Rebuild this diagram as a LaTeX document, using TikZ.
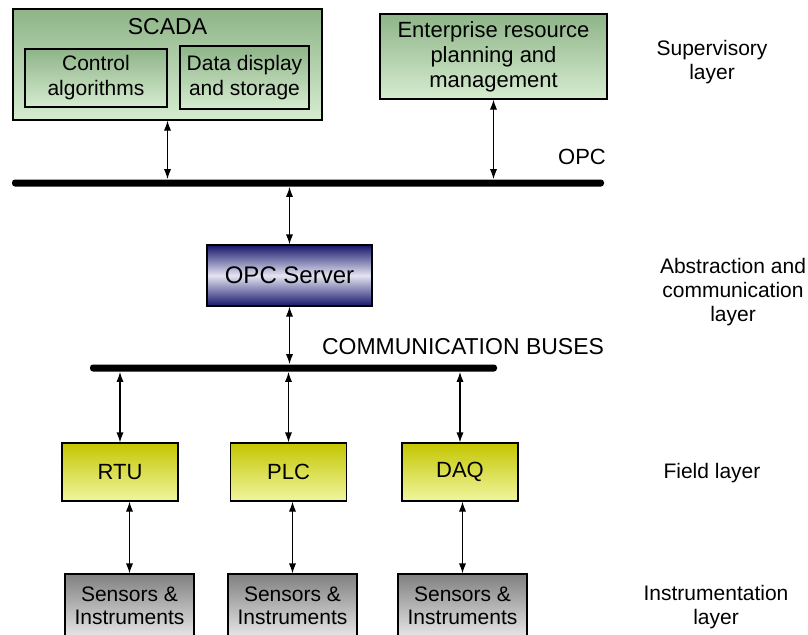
\documentclass[tikz,border=0pt]{standalone}
\usepackage{fontspec}
\setmainfont{Liberation Sans}
\usetikzlibrary{arrows.meta}

\definecolor{grtop}{RGB}{142,180,136}
\definecolor{grbot}{RGB}{214,236,208}
\definecolor{yltop}{RGB}{196,198,0}
\definecolor{ylbot}{RGB}{240,246,160}
\definecolor{navy}{RGB}{22,22,108}
\definecolor{navymid}{RGB}{228,228,242}
\definecolor{gytop}{RGB}{128,128,128}
\definecolor{gybot}{RGB}{232,232,232}

\begin{document}
\begin{tikzpicture}[x=0.5pt, y=-0.5pt,
    box/.style={draw, line width=0.6pt, inner sep=0pt, align=center,
        font=\fontsize{10.5}{12.5}\selectfont},
    greenbox/.style={box, top color=grtop, bottom color=grbot},
    fieldbox/.style={box, top color=yltop, bottom color=ylbot,
        minimum width=58pt, minimum height=29pt, font=\fontsize{11}{13}\selectfont},
    sensbox/.style={box, top color=gytop, bottom color=gybot,
        minimum width=64.5pt, minimum height=32pt, font=\fontsize{10.5}{11.5}\selectfont},
    bus/.style={fill=black, rounded corners=1.5pt, minimum height=3.5pt, inner sep=0pt},
    layer/.style={align=center, font=\fontsize{10.5}{12}\selectfont},
    link/.style={{Latex[length=5pt,width=3.6pt]}-{Latex[length=5pt,width=3.6pt]}, line width=0.6pt}]
    \clip (0,0) rectangle (808,634);

    % Supervisory layer
    \node[greenbox, minimum width=154.5pt, minimum height=55.5pt] (scada) at (167.5,64.5) {};
    \node[font=\fontsize{11.5}{13}\selectfont] (scadatitle) at (167.5,27) {SCADA};
    \node[greenbox, minimum width=71pt, minimum height=29pt] (ctrl) at (96,78) {Control\\algorithms};
    \node[greenbox, minimum width=64.5pt, minimum height=31.5pt] (data) at (244.5,77.5) {Data display\\and storage};
    \node[greenbox, minimum width=113.5pt, minimum height=42.5pt,
        font=\fontsize{11}{12.5}\selectfont] (erp) at (493.5,56.5) {Enterprise resource\\planning and\\management};

    % OPC bus
    \node[bus, minimum width=296pt] (opcbus) at (308,183) {};
    \node[font=\fontsize{11}{13}\selectfont] (opclabel) at (582,157) {OPC};

    % Abstraction and communication layer
    \node[box, top color=navy, bottom color=navy, middle color=navymid,
        minimum width=82.5pt, minimum height=30.5pt,
        font=\fontsize{12}{14}\selectfont] (server) at (289.5,275.5) {OPC Server};
    \node[bus, minimum width=203.5pt] (commbus) at (293.5,368) {};
    \node[font=\fontsize{11.5}{13}\selectfont] (commlabel) at (463,347) {COMMUNICATION BUSES};

    % Field layer
    \node[fieldbox] (rtu) at (120,472) {RTU};
    \node[fieldbox] (plc) at (288.5,472) {PLC};
    \node[fieldbox] (daq) at (460,472) {DAQ};

    % Instrumentation layer
    \node[sensbox] (sens1) at (129.5,606) {Sensors \&\\Instruments};
    \node[sensbox] (sens2) at (292.5,606) {Sensors \&\\Instruments};
    \node[sensbox] (sens3) at (462.5,606) {Sensors \&\\Instruments};

    % Edges
    \draw[link] (scada.south) -- (scada.south |- opcbus.north);
    \draw[link] (erp.south) -- (erp.south |- opcbus.north);
    \draw[link] (opcbus.south -| server.north) -- (server.north);
    \draw[link] (server.south) -- (server.south |- commbus.north);
    \draw[link] (commbus.south -| rtu.north) -- (rtu.north);
    \draw[link] (commbus.south -| plc.north) -- (plc.north);
    \draw[link] (commbus.south -| daq.north) -- (daq.north);
    \draw[link] (rtu.south -| sens1.north) -- (sens1.north);
    \draw[link] (plc.south -| sens2.north) -- (sens2.north);
    \draw[link] (daq.south -| sens3.north) -- (sens3.north);

    % Layer labels
    \node[layer] (suplayer) at (712,62) {Supervisory\\layer};
    \node[layer] (abslayer) at (733,292) {Abstraction and\\communication\\layer};
    \node[layer] (fieldlayer) at (712,473) {Field layer};
    \node[layer] (instlayer) at (716,607) {Instrumentation\\layer};
\end{tikzpicture}
\end{document}
